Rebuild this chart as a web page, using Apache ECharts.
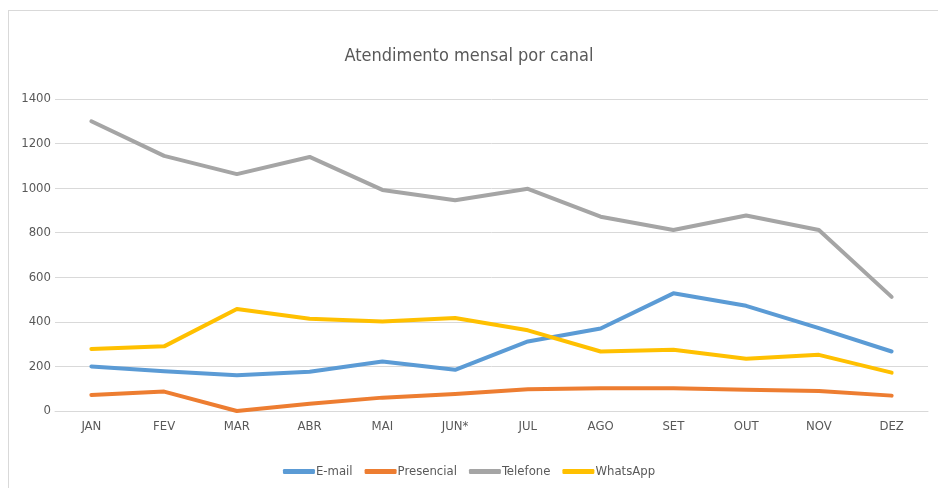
<!DOCTYPE html>
<html>
<head>
<meta charset="utf-8">
<script src="https://cdn.jsdelivr.net/npm/echarts@6/dist/echarts.min.js"></script>
<style>
html, body { margin: 0; padding: 0; background: #fff; }
#wrap { position: relative; width: 938px; height: 488px; overflow: hidden; }
#frame { position: absolute; left: 8px; top: 10px; width: 960px; height: 500px; border: 1px solid #d9d9d9; }
#chart { position: absolute; left: 0; top: 0; width: 938px; height: 488px; }
</style>
</head>
<body>
<div id="wrap">
  <div id="frame"></div>
  <div id="chart"></div>
</div>
<script>
// dados
const meses = ['JAN', 'FEV', 'MAR', 'ABR', 'MAI', 'JUN*', 'JUL', 'AGO', 'SET', 'OUT', 'NOV', 'DEZ']
const email = [200, 178, 160, 176, 222, 185, 312, 370, 528, 472, 372, 267]
const presencial = [72, 87, 0, 33, 60, 76, 98, 102, 102, 95, 90, 69]
const telefone = [1300, 1145, 1063, 1140, 992, 946, 997, 872, 812, 877, 812, 512]
const whatsapp = [278, 290, 458, 414, 402, 417, 362, 267, 275, 234, 252, 172]
const yTicks = [0, 200, 400, 600, 800, 1000, 1200, 1400]

const fonte = '"DejaVu Sans Condensed", "Liberation Sans Narrow", "Open Sans", sans-serif'

let chart = echarts.init(document.getElementById('chart'))

function serie (nome, dados, cor) {
  return {
    name: nome,
    type: 'line',
    data: dados,
    symbol: 'none',
    lineStyle: { width: 4, color: cor, cap: 'round', join: 'round' },
    itemStyle: { color: cor }
  }
}

let option = {
  animation: false,
  title: {
    text: 'Atendimento mensal por canal',
    left: 'center',
    top: 42,
    textStyle: { color: '#595959', fontSize: 18, fontWeight: 'normal', fontFamily: fonte }
  },
  legend: {
    bottom: 5,
    icon: 'roundRect',
    itemWidth: 32,
    itemHeight: 5,
    itemGap: 12,
    textStyle: { color: '#595959', fontSize: 13, fontFamily: fonte, padding: [0, 0, 0, -4] },
    data: ['E-mail', 'Presencial', 'Telefone', 'WhatsApp']
  },
  grid: { left: 55, right: 10, top: 99, bottom: 77 },
  xAxis: {
    type: 'category',
    data: meses,
    boundaryGap: true,
    axisLine: { lineStyle: { color: '#d9d9d9', width: 1 } },
    axisTick: { show: false },
    axisLabel: { color: '#595959', fontSize: 13, fontFamily: fonte, margin: 9 }
  },
  yAxis: {
    type: 'value',
    min: yTicks[0],
    max: yTicks[yTicks.length - 1],
    interval: 200,
    axisLine: { show: false },
    axisTick: { show: false },
    splitLine: { lineStyle: { color: '#d9d9d9', width: 1 } },
    axisLabel: { color: '#595959', fontSize: 13, fontFamily: fonte, margin: 4, formatter: v => String(v) }
  },
  series: [
    serie('E-mail', email, '#5B9BD5'),
    serie('Presencial', presencial, '#ED7D31'),
    serie('Telefone', telefone, '#A5A5A5'),
    serie('WhatsApp', whatsapp, '#FFC000')
  ]
}

chart.setOption(option)
</script>
</body>
</html>
